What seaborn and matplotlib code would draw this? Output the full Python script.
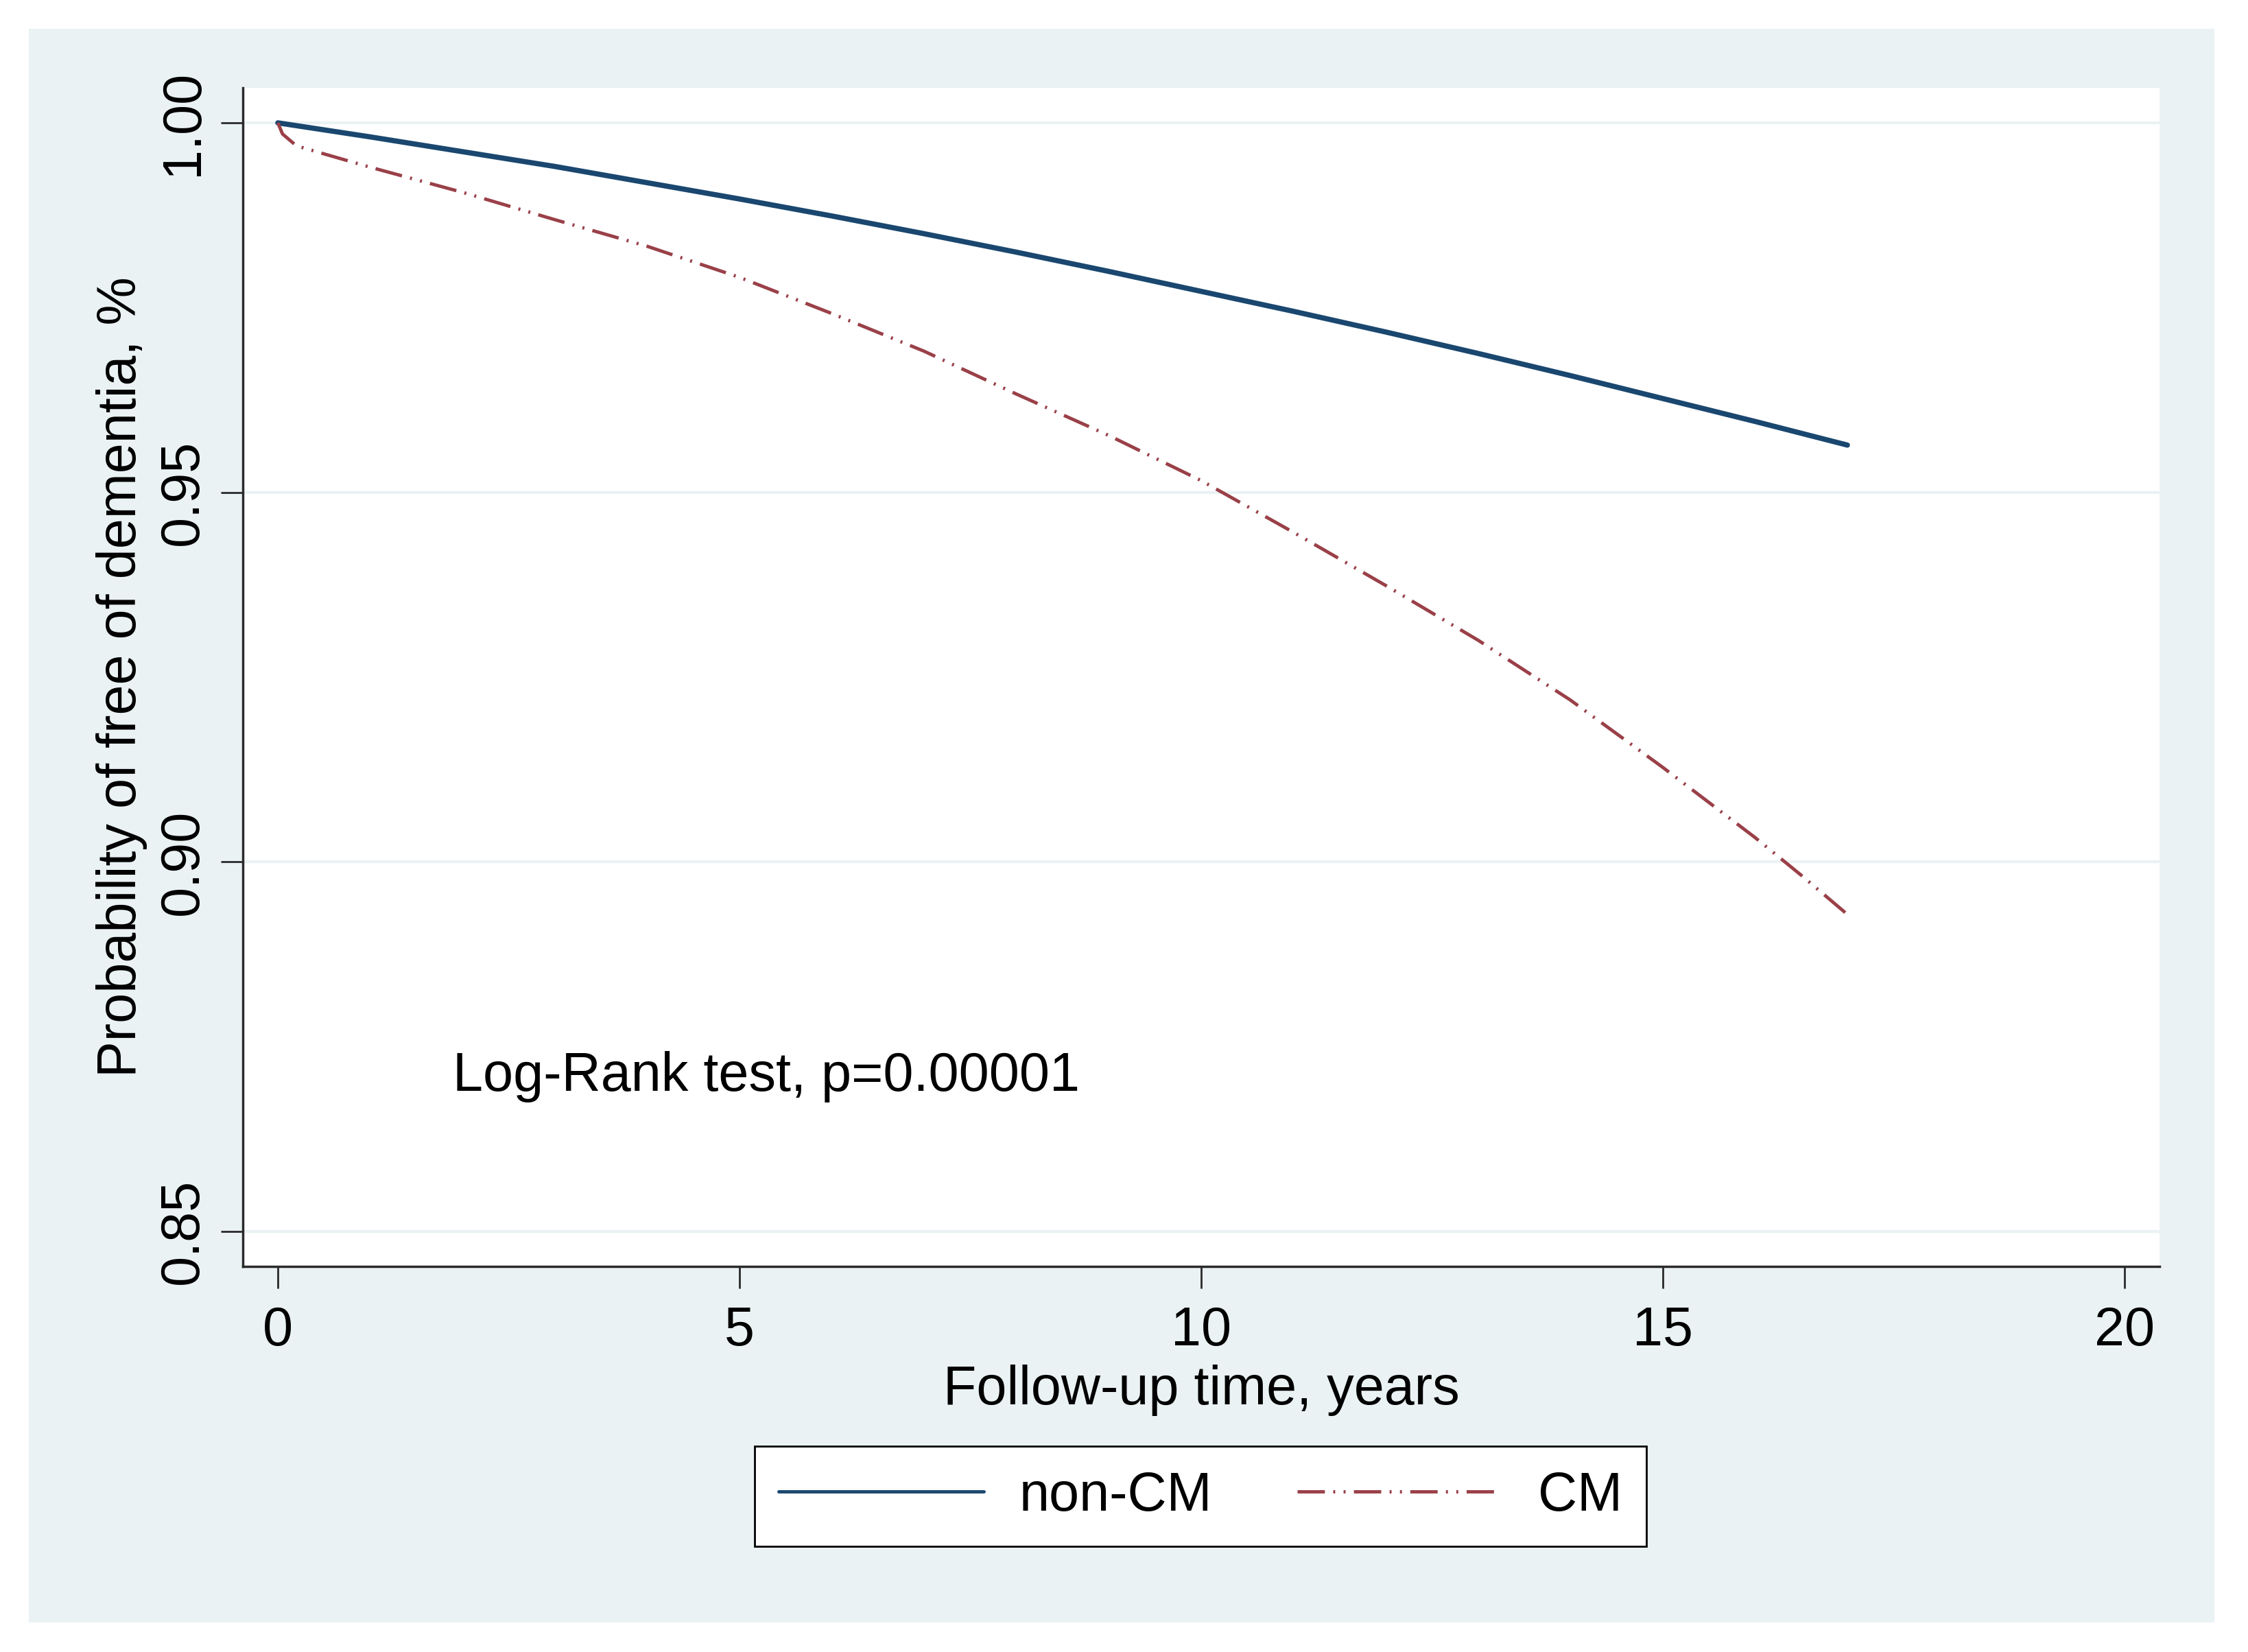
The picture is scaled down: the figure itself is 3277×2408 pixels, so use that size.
import matplotlib
matplotlib.use("Agg")
import matplotlib.pyplot as plt
from matplotlib.patches import Rectangle
import seaborn as sns
import pandas as pd

# --- データ ---
GROUPS = ['non-CM', 'CM']

noncm_time = [0, 1, 2, 3, 4, 5, 6, 7, 8, 9, 10, 11, 12, 13, 14, 15, 16, 17]
noncm_surv = [1.0000, 0.9981, 0.9961, 0.9941, 0.9919, 0.9897, 0.9874, 0.9850,
              0.9825, 0.9799, 0.9772, 0.9745, 0.9717, 0.9688, 0.9658, 0.9627,
              0.9596, 0.9564]

cm_time = [0, 0.05, 0.2, 0.5, 1, 2, 3, 4, 5, 6, 7, 8, 9, 10, 11, 12, 13, 14,
           15, 16, 16.5, 17]
cm_surv = [1.0000, 0.9985, 0.9969, 0.9958, 0.9940, 0.9906, 0.9869, 0.9833,
           0.9791, 0.9742, 0.9691, 0.9633, 0.9577, 0.9516, 0.9446, 0.9374,
           0.9300, 0.9219, 0.9128, 0.9033, 0.8982, 0.8929]

x_ticks = [0, 5, 10, 15, 20]
y_ticks = [0.85, 0.90, 0.95, 1.00]
y_tick_labels = ['0.85', '0.90', '0.95', '1.00']

ANNOT = 'Log-Rank test, p=0.00001'
X_LABEL = 'Follow-up time, years'
Y_LABEL = 'Probability of free of dementia, %'

# --- 色・スタイル (Stata s2color 風) ---
BG = '#eaf2f3'
NAVY = '#1a476f'
MAROON = '#9a4048'
FS = 57

sns.set_style('ticks')
plt.rcParams['font.family'] = ['Liberation Sans', 'DejaVu Sans']
plt.rcParams['text.color'] = 'black'
plt.rcParams['axes.labelcolor'] = 'black'
plt.rcParams['legend.labelcolor'] = 'black'


def main():
    df = pd.concat([
        pd.DataFrame({'time': noncm_time, 'surv': noncm_surv, 'group': GROUPS[0]}),
        pd.DataFrame({'time': cm_time, 'surv': cm_surv, 'group': GROUPS[1]}),
    ])

    fig = plt.figure(figsize=(32.77, 24.08), dpi=100, facecolor='white')
    # 外側の薄い青グレー領域
    fig.patches.append(Rectangle((0.0128, 0.0179), 0.985 - 0.0128, 0.9826 - 0.0179,
                                 transform=fig.transFigure, facecolor=BG,
                                 edgecolor='none', zorder=-1))

    ax = fig.add_axes([0.1080, 0.2334, 0.9606 - 0.1080, 0.9468 - 0.2334])
    ax.set_facecolor('white')

    sns.lineplot(data=df[df['group'] == GROUPS[0]], x='time', y='surv', ax=ax,
                 color=NAVY, linewidth=5.5, estimator=None, sort=False,
                 label=GROUPS[0])
    sns.lineplot(data=df[df['group'] == GROUPS[1]], x='time', y='surv', ax=ax,
                 color=MAROON, linewidth=3.5, estimator=None, sort=False,
                 linestyle=(0, (8.2, 2.5, 0.6, 2.5, 0.6, 2.5)),
                 label=GROUPS[1])

    ax.set_xlim(-0.38, 20.38)
    ax.set_ylim(0.84527, 1.00473)
    ax.set_xticks(x_ticks)
    ax.set_yticks(y_ticks)
    ax.set_yticklabels(y_tick_labels)

    # グリッド (y のみ)
    ax.set_axisbelow(True)
    ax.yaxis.grid(True, color=BG, linewidth=3)
    ax.xaxis.grid(False)

    for s in ['top', 'right']:
        ax.spines[s].set_visible(False)
    for s in ['left', 'bottom']:
        ax.spines[s].set_color('#2a2a2a')
        ax.spines[s].set_linewidth(2.5)

    ax.tick_params(axis='both', direction='out', length=23, width=2,
                   color='#2a2a2a', labelsize=FS, labelcolor='black')
    ax.tick_params(axis='x', pad=18)
    ax.tick_params(axis='y', pad=12, labelrotation=90)
    for lab in ax.get_yticklabels():
        lab.set_va('center')

    ax.set_xlabel(X_LABEL, fontsize=FS, labelpad=8, color='black')
    ax.set_ylabel(Y_LABEL, fontsize=FS, labelpad=11, color='black')

    ax.text(1.895, 0.869, ANNOT, fontsize=FS, ha='left', va='baseline',
            color='black')

    handles, labels = ax.get_legend_handles_labels()
    if ax.get_legend() is not None:
        ax.get_legend().remove()
    leg = fig.legend(handles, labels, loc='upper center',
                     bbox_to_anchor=(0.534, 0.1246), bbox_transform=fig.transFigure,
                     ncol=2, fontsize=FS, frameon=True, fancybox=False,
                     edgecolor='black', facecolor='white', framealpha=1,
                     handlelength=3.77, handletextpad=0.66, columnspacing=1.56,
                     borderpad=0.45, borderaxespad=0)
    leg.get_frame().set_linewidth(2)
    for line in leg.get_lines():
        line.set_linewidth(3.5)
    for t in leg.get_texts():
        t.set_color('black')

    fig.savefig('out.png', dpi=100, facecolor='white')


if __name__ == '__main__':
    main()
